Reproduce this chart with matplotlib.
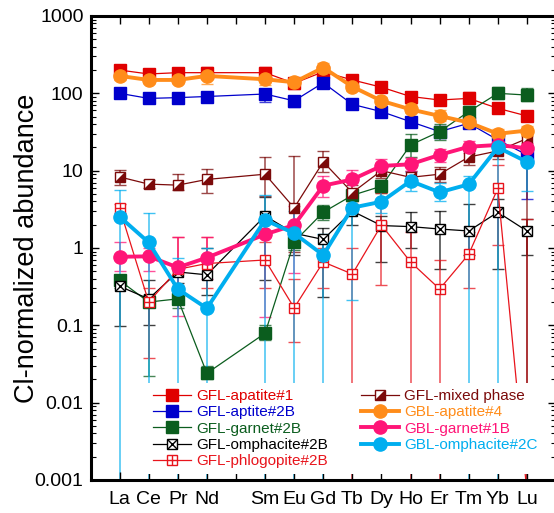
"""
CI-normalized REE patterns for GFL / GBL minerals
"""

import matplotlib
matplotlib.use("Agg")
import matplotlib.pyplot as plt
import matplotlib.ticker as ticker
from matplotlib.lines import Line2D
import numpy as np

# ==============================================================================
# Figure specs
# ==============================================================================
DPI = 100
FIG_W_PX, FIG_H_PX = 554, 513
AX_LEFT_PX, AX_RIGHT_PX = 90.5, 556
AX_TOP_PX, AX_BOTTOM_PX = 16, 480

FONT_FAMILY = ['Liberation Sans', 'DejaVu Sans']
TICK_FS = 14
LABEL_FS = 19.5
LEGEND_FS = 11

# ==============================================================================
# Data
# ==============================================================================
elements = ['La', 'Ce', 'Pr', 'Nd', 'Pm', 'Sm', 'Eu', 'Gd', 'Tb', 'Dy', 'Ho', 'Er', 'Tm', 'Yb', 'Lu']
ree_pos = [1, 2, 3, 4, 6, 7, 8, 9, 10, 11, 12, 13, 14, 15]   # Pm has no analysis
y_ticks = [0.001, 0.01, 0.1, 1, 10, 100, 1000]
y_ticklabels = ['0.001', '0.01', '0.1', '1', '10', '100', '1000']

gfl_apatite1 = [200, 178, 185, 185, 185, 135, 190, 149, 120, 91, 82, 86, 64, 51]
gfl_apatite1_hi = [225, 200, 210, 220, 220, 160, 215, 165, 132, 100, 92, 105, 75, 58]
gfl_apatite1_lo = [180, 160, 165, 160, 155, 115, 170, 135, 108, 82, 74, 76, 56, 45]

gfl_aptite2b = [100, 86, 88, 91, 98, 80, 137, 72, 58, 43, 32, 41, 25, 16]
gfl_aptite2b_hi = [112, 96, 98, 103, 112, 90, 155, 80, 65, 48, 36, 47, 29, 18]
gfl_aptite2b_lo = [90, 78, 80, 80, 78, 67, 118, 65, 52, 38, 28, 36, 21, 4.3]

gfl_garnet2b = [0.38, 0.2, 0.22, 0.024, 0.079, 1.2, 2.9, 4.8, 6.3, 21.5, 32, 58, 100, 95]
gfl_garnet2b_hi = [0.45, 0.25, 0.27, 0.03, 0.1, 1.5, 3.6, 5.8, 7.5, 30, 40, 68, 122, 118]
gfl_garnet2b_lo = [0.3, 0.022, 0.17, 0.02, 0.065, 0.95, 2.3, 4.0, 5.2, 15, 25, 48, 85, 80]

gfl_omphacite2b = [0.32, 0.22, 0.49, 0.45, 2.6, 1.55, 1.29, 3.0, 1.95, 1.89, 1.76, 1.66, 2.9, 1.66]
gfl_omphacite2b_hi = [0.4, 0.39, 0.6, 1.0, 4.6, 2.2, 1.8, 3.7, 2.6, 2.9, 3.0, 3.7, 4.3, 2.4]
gfl_omphacite2b_lo = [0.097, 0.1, 0.35, 0.25, 0.39, 0.8, 0.23, 2.0, 0.66, 1.0, 0.53, 0.8, 0.54, 0.8]

gfl_phlogopite2b = [3.26, 0.2, 0.53, 0.63, 0.70, 0.168, 0.66, 0.46, 1.98, 0.66, 0.295, 0.83, 5.9, 0.0007]
gfl_phlogopite2b_hi = [3.7, 0.3, 1.38, 1.37, 1.2, 0.4, 1.0, 1.0, 5.2, 1.6, 0.7, 1.6, 12, 2.4]
gfl_phlogopite2b_lo = [2.8, 0.038, 0.25, 0.3, 0.3, 0.06, 0.3, 1e-4, 0.33, 1e-4, 1e-4, 0.3, 1.1, 1e-4]

gfl_mixed = [8.3, 6.7, 6.5, 7.7, 9.0, 3.3, 13, 5.2, 10, 8.2, 9, 15, 18, 26]
gfl_mixed_hi = [10.2, 7.5, 9.0, 10.4, 15.2, 15.5, 18.2, 6.5, 12, 10, 11, 18, 22, 32]
gfl_mixed_lo = [6.6, 6.0, 5.6, 5.1, 4.7, 0.9, 9.5, 4.0, 8.0, 6.5, 7.2, 12, 14, 1e-4]

gbl_apatite4 = [168, 149, 149, 168, 152, 139, 215, 122, 80, 62, 51, 42, 30, 33]
gbl_apatite4_hi = [185, 165, 165, 200, 175, 160, 245, 135, 90, 72, 60, 48, 35, 38]
gbl_apatite4_lo = [150, 135, 135, 132, 130, 120, 185, 108, 72, 55, 44, 36, 26, 28]

gbl_garnet1b = [0.77, 0.78, 0.56, 0.75, 1.5, 1.98, 6.4, 7.7, 11.5, 12.1, 16, 20.4, 21.5, 19.5]
gbl_garnet1b_hi = [1.18, 1.0, 1.38, 1.37, 2.3, 3.5, 8.6, 10.2, 14, 14.5, 19, 24, 25, 23]
gbl_garnet1b_lo = [0.5, 0.5, 0.134, 0.4, 0.13, 0.47, 4.5, 5.5, 9, 10, 13, 17, 18, 16]

gbl_omphacite2c = [2.54, 1.18, 0.295, 0.166, 2.3, 1.55, 0.81, 3.32, 3.97, 7.35, 5.25, 6.66, 20, 13]
gbl_omphacite2c_hi = [5.6, 2.8, 0.75, 1.0, 4.8, 3.0, 1.5, 4.5, 5.5, 9.5, 7.0, 8.5, 23, 15]
gbl_omphacite2c_lo = [1e-4, 1e-4, 1e-4, 1e-4, 1e-4, 1e-4, 1e-4, 0.21, 2.8, 5.5, 4.0, 1e-4, 1e-4, 5.5]

# ==============================================================================
# Styles
# ==============================================================================
HALF_SQUARE = [(-1, -1), (1, -1), (1, 1)]   # lower-right filled triangle

SERIES = [
    # label, values, hi, lo, color, kind, lw, ms
    ('GFL-apatite#1', gfl_apatite1, gfl_apatite1_hi, gfl_apatite1_lo, '#e00000', 'sq', 0.9, 8),
    ('GFL-aptite#2B', gfl_aptite2b, gfl_aptite2b_hi, gfl_aptite2b_lo, '#0000cc', 'sq', 0.9, 8),
    ('GFL-garnet#2B', gfl_garnet2b, gfl_garnet2b_hi, gfl_garnet2b_lo, '#0b5d1e', 'sq', 0.9, 8),
    ('GFL-omphacite#2B', gfl_omphacite2b, gfl_omphacite2b_hi, gfl_omphacite2b_lo, '#000000', 'cross', 0.9, 7.5),
    ('GFL-phlogopite#2B', gfl_phlogopite2b, gfl_phlogopite2b_hi, gfl_phlogopite2b_lo, '#e8141c', 'plus', 0.9, 7.5),
    ('GFL-mixed phase', gfl_mixed, gfl_mixed_hi, gfl_mixed_lo, '#7b0a0a', 'half', 0.9, 7.5),
    ('GBL-apatite#4', gbl_apatite4, gbl_apatite4_hi, gbl_apatite4_lo, '#ff8c1a', 'circ', 2.8, 9.5),
    ('GBL-garnet#1B', gbl_garnet1b, gbl_garnet1b_hi, gbl_garnet1b_lo, '#ff1577', 'circ', 2.8, 9.5),
    ('GBL-omphacite#2C', gbl_omphacite2c, gbl_omphacite2c_hi, gbl_omphacite2c_lo, '#00aeef', 'circ', 2.8, 9.5),
]


def setup_plot_style():
    plt.rcParams['font.family'] = FONT_FAMILY
    plt.rcParams['font.size'] = TICK_FS


def draw_series(ax, label, vals, hi, lo, color, kind, lw, ms, z):
    x = np.array(ree_pos, dtype=float)
    v = np.array(vals, dtype=float)
    yerr = [v - np.array(lo), np.array(hi) - v]
    ax.errorbar(x, v, yerr=yerr, fmt='none', ecolor=color, elinewidth=1.1,
                capsize=4, capthick=1.0, alpha=0.75, zorder=1)

    if kind in ('sq', 'circ'):
        marker = 's' if kind == 'sq' else 'o'
        line, = ax.plot(x, v, color=color, lw=lw, marker=marker, ms=ms,
                        mfc=color, mec=color, zorder=z)
        return line
    # open square with an inner symbol
    line, = ax.plot(x, v, color=color, lw=lw, marker='s', ms=ms,
                    mfc='white', mec=color, mew=1.0, zorder=z)
    if kind == 'cross':
        inner = dict(marker='x', ms=ms, mew=1.0, color=color)
    elif kind == 'plus':
        inner = dict(marker='+', ms=ms * 0.95, mew=1.0, color=color)
    else:
        inner = dict(marker=HALF_SQUARE, ms=ms, mew=0, color=color)
    ax.plot(x, v, ls='none', zorder=z + 0.01, **inner)
    return (line, Line2D([], [], ls='none', **inner))


def plot_figure():
    fig = plt.figure(figsize=(FIG_W_PX / DPI, FIG_H_PX / DPI), dpi=DPI)
    ax = fig.add_axes([AX_LEFT_PX / FIG_W_PX,
                       1 - AX_BOTTOM_PX / FIG_H_PX,
                       (AX_RIGHT_PX - AX_LEFT_PX) / FIG_W_PX,
                       (AX_BOTTOM_PX - AX_TOP_PX) / FIG_H_PX])

    handles, labels = [], []
    for i, (label, vals, hi, lo, color, kind, lw, ms) in enumerate(SERIES):
        h = draw_series(ax, label, vals, hi, lo, color, kind, lw, ms, 2 + i * 0.1)
        handles.append(h)
        labels.append(label)

    ax.set_yscale('log')
    ax.set_ylim(0.001, 1000)
    ax.set_xlim(0, 16)

    ax.set_xticks(range(1, 16))
    ax.set_xticklabels(['' if e == 'Pm' else e for e in elements])
    ax.set_yticks(y_ticks)
    ax.set_yticklabels(y_ticklabels)
    minor = [m * 10.0 ** e for e in range(-3, 3) for m in range(2, 10)]
    ax.yaxis.set_minor_locator(ticker.FixedLocator(minor))
    ax.yaxis.set_minor_formatter(ticker.NullFormatter())

    ax.tick_params(axis='both', which='major', direction='in', length=6, width=1,
                   labelsize=TICK_FS, top=True, right=True)
    ax.tick_params(axis='y', which='minor', direction='in', length=3.5, width=0.8,
                   right=True)
    ax.tick_params(axis='x', which='major', pad=8)
    ax.tick_params(axis='y', which='major', pad=5)

    for spine in ax.spines.values():
        spine.set_linewidth(2.2)

    ax.set_ylabel('Cl-normalized abundance', fontsize=LABEL_FS, labelpad=-4)

    # legend: two columns, white box without frame, covers the lower part
    blank = Line2D([], [], ls='none')
    leg = ax.legend(handles + [blank], labels + [''], ncol=2, loc='upper left',
                    bbox_to_anchor=(147 / FIG_W_PX, 1 - 383 / FIG_H_PX),
                    bbox_transform=fig.transFigure, borderaxespad=0,
                    fontsize=LEGEND_FS, frameon=True, framealpha=1,
                    facecolor='white', edgecolor='none', fancybox=False,
                    handlelength=2.45, handletextpad=0.35, columnspacing=2.2,
                    labelspacing=0.15, borderpad=0.4, markerscale=1.0)
    for text, series in zip(leg.get_texts()[:9], SERIES):
        text.set_color(series[4])

    fig.savefig('out.png', dpi=DPI)
    plt.close(fig)


def main():
    setup_plot_style()
    plot_figure()


if __name__ == "__main__":
    main()
